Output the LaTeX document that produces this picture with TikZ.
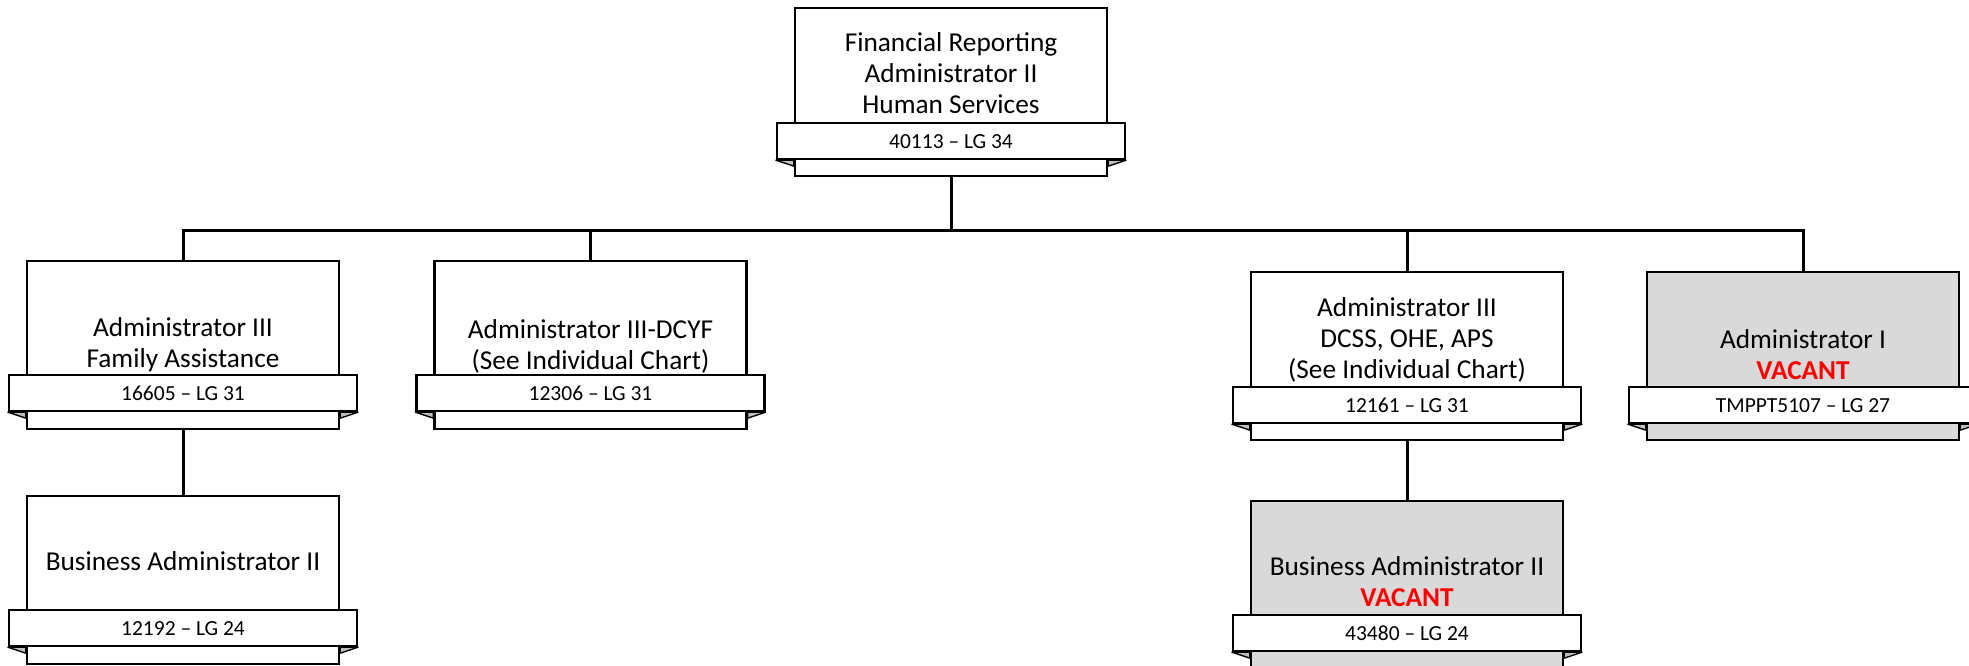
\documentclass[tikz,border=0pt]{standalone}
\usepackage{fontspec}
\setmainfont{Carlito}
\definecolor{vacgray}{HTML}{D9D9D9}
\definecolor{foldgray}{HTML}{BFBFBF}
\definecolor{vacred}{HTML}{FF0000}
\pgfdeclarelayer{bglayer}
\pgfdeclarelayer{connlayer}
\pgfsetlayers{bglayer,connlayer,main}
\newcommand\orgfolds[2]{%
  \draw[fold] (#2.south west) -- (#2.south west -| #1.west) -- ([yshift=-6pt]#2.south west -| #1.west) -- cycle;
  \draw[fold] (#2.south east) -- (#2.south east -| #1.east) -- ([yshift=-6pt]#2.south east -| #1.east) -- cycle;}
\newcommand\vacanttext{{\color{vacred}\bfseries VACANT}}
\begin{document}
\begin{tikzpicture}[x=1pt,y=-1pt,
  posbox/.style={draw=black, line width=2.2pt, fill=white, minimum width=312pt, minimum height=168pt, inner sep=0pt, anchor=north},
  vacbox/.style={posbox, fill=vacgray},
  ribbonbox/.style={draw=black, line width=2.2pt, fill=white, minimum width=348pt, minimum height=36pt, inner sep=0pt, anchor=north, font=\fontsize{21.5}{26}\selectfont},
  title/.style={align=center, inner sep=0pt, font=\fontsize{27.3}{31}\selectfont},
  conn/.style={line width=3pt, line join=miter},
  fold/.style={fill=foldgray, draw=black, line width=1.4pt, line join=round}]
\clip (0,0) rectangle (1969,666);
\begin{pgfonlayer}{bglayer}
\fill[white] (0,0) rectangle (1969,666);
\end{pgfonlayer}
% box frames
\node[posbox] (A) at (951,7) {};
\node[posbox] (B) at (183,260) {};
\node[posbox] (C) at (590.5,260) {};
\node[posbox] (D) at (1407,271) {};
\node[vacbox] (E) at (1803,271) {};
\node[posbox] (F) at (183,495) {};
\node[vacbox] (G) at (1407,500) {};
\coordinate (bus) at (951,230);
% connectors
\begin{pgfonlayer}{connlayer}
\draw[conn] (A.south) -- (A.south |- bus);
\draw[conn] (B.north) |- (bus) -| (E.north);
\draw[conn] (C.north) -- (C.north |- bus);
\draw[conn] (D.north) -- (D.north |- bus);
\draw[conn] (B.south) -- (F.north);
\draw[conn] (D.south) -- (G.north);
\end{pgfonlayer}
% ribbons with folds
\path node[ribbonbox] (Ar) at (951,122) {};
\orgfolds{A}{Ar}
\node[ribbonbox] (Ar2) at (951,122) {40113 – LG 34};
\path node[ribbonbox] (Br) at (183,374) {};
\orgfolds{B}{Br}
\node[ribbonbox] (Br2) at (183,374) {16605 – LG 31};
\path node[ribbonbox] (Cr) at (590.5,374) {};
\orgfolds{C}{Cr}
\node[ribbonbox] (Cr2) at (590.5,374) {12306 – LG 31};
\path node[ribbonbox] (Dr) at (1407,386) {};
\orgfolds{D}{Dr}
\node[ribbonbox] (Dr2) at (1407,386) {12161 – LG 31};
\path node[ribbonbox] (Er) at (1803,386) {};
\orgfolds{E}{Er}
\node[ribbonbox] (Er2) at (1803,386) {TMPPT5107 – LG 27};
\path node[ribbonbox] (Fr) at (183,609) {};
\orgfolds{F}{Fr}
\node[ribbonbox] (Fr2) at (183,609) {12192 – LG 24};
\path node[ribbonbox] (Gr) at (1407,614) {};
\orgfolds{G}{Gr}
\node[ribbonbox] (Gr2) at (1407,614) {43480 – LG 24};
% titles
\node[title] (At) at (951,73) {Financial Reporting\\Administrator II\\Human Services};
\node[title] (Bt) at (183,345) {Administrator III\\Family Assistance};
\node[title] (Ct) at (590.5,346) {Administrator III-DCYF\\(See Individual Chart)};
\node[title] (Dt) at (1407,340) {Administrator III\\DCSS, OHE, APS\\(See Individual Chart)};
\node[title] (Et) at (1803,355) {Administrator I\\\vacanttext};
\node[title] (Ft) at (183,561) {Business Administrator II};
\node[title] (Gt) at (1407,582) {Business Administrator II\\\vacanttext};
\end{tikzpicture}
\end{document}
